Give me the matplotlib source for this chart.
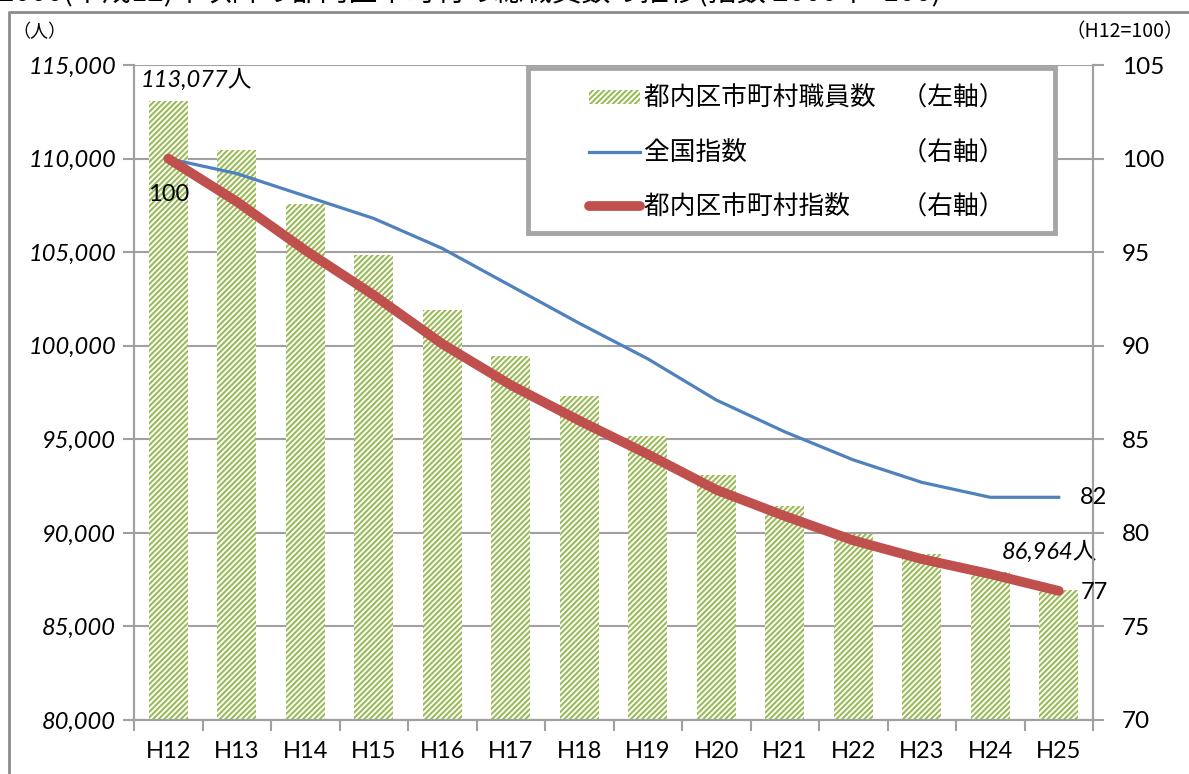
import matplotlib
matplotlib.use("Agg")
import matplotlib.pyplot as plt
from matplotlib import font_manager
from matplotlib.font_manager import FontProperties
from matplotlib.lines import Line2D
from matplotlib.patches import Patch, Rectangle

plt.rcParams['font.family'] = ['Lato', 'Noto Sans CJK JP', 'DejaVu Sans']
plt.rcParams['hatch.linewidth'] = 1.5

# 年度
years = ['H12', 'H13', 'H14', 'H15', 'H16', 'H17', 'H18',
         'H19', 'H20', 'H21', 'H22', 'H23', 'H24', 'H25']
# 都内区市町村職員数（人）
staff = [113077, 110450, 107560, 104830, 101890, 99430, 97290,
         95200, 93110, 91450, 89950, 88880, 87920, 86964]
# 全国指数（H12=100）
national_idx = [100, 99.2, 98.0, 96.8, 95.2, 93.2, 91.2,
                89.3, 87.1, 85.4, 83.9, 82.7, 81.9, 81.9]
# 都内区市町村指数（H12=100）
tokyo_idx = [100, 97.7, 95.1, 92.7, 90.1, 87.9, 86.0,
             84.2, 82.3, 80.9, 79.6, 78.6, 77.8, 76.9]

GREEN = '#9BBB59'
BLUE = '#4F81BD'
RED = '#C0504D'
GRID = '#A0A0A0'
JP = ['Noto Sans CJK JP', 'DejaVu Sans']
FS = 17


def italic_family():
    # 斜体フォントが実際にあるファミリーを選ぶ
    for fam in ['Lato', 'Open Sans', 'Noto Sans', 'Liberation Sans', 'DejaVu Sans']:
        path = font_manager.findfont(FontProperties(family=fam, style='italic'),
                                     fallback_to_default=False)
        name = path.lower()
        if fam.split()[0].lower() in name and ('italic' in name or 'oblique' in name):
            return fam
    return 'DejaVu Sans'


ITALIC = [italic_family(), 'Noto Sans CJK JP']

fig = plt.figure(figsize=(11.89, 7.74), dpi=100)
ax = fig.add_axes([134 / 1189, 1 - 720 / 774, 959 / 1189, 655 / 774])
ax2 = ax.twinx()

x = list(range(len(years)))

# 棒グラフ（左軸）
ax.bar(x, staff, width=0.57, color='white', edgecolor=GREEN,
       linewidth=0, hatch='//////', zorder=2)
ax.set_ylim(80000, 115000)
left_ticks = list(range(80000, 115001, 5000))
ax.set_yticks(left_ticks, [f'{v:,}' for v in left_ticks])
ax.set_xlim(-0.5, len(years) - 0.5)
ax.set_xticks(x, years, fontsize=FS)
ax.set_xticks([i - 0.5 for i in range(len(years) + 1)], minor=True)
ax.tick_params(axis='x', which='major', length=0, pad=15)
ax.tick_params(axis='x', which='minor', length=8, width=1.5, color=GRID)
ax.tick_params(axis='y', length=8, width=1.5, color=GRID, pad=5)
ax.grid(axis='y', color=GRID, linewidth=1.5, zorder=0)
ax.set_axisbelow(True)

# 折れ線（右軸）
ax2.plot(x, national_idx, color=BLUE, linewidth=2.3, zorder=3)
ax2.plot(x, tokyo_idx, color=RED, linewidth=7, solid_capstyle='round',
         solid_joinstyle='round', zorder=4)
ax2.set_ylim(70, 105)
right_ticks = list(range(70, 106, 5))
ax2.set_yticks(right_ticks, [str(v) for v in right_ticks], fontsize=FS + 0.5)
ax2.tick_params(axis='y', length=8, width=1.5, color=GRID, pad=13)

for a in (ax, ax2):
    a.spines['top'].set_visible(False)
    for s in ('left', 'right', 'bottom'):
        a.spines[s].set_color(GRID)
        a.spines[s].set_linewidth(1.5)

# データラベル
ax.annotate(f'{staff[0]:,}人', (x[0], staff[0]), xytext=(-20, 15),
            textcoords='offset points', ha='left', va='center',
            fontsize=FS, fontstyle='italic', family=ITALIC)
ax.annotate(f'{staff[-1]:,}人', (x[-1], staff[-1]), xytext=(28, 27),
            textcoords='offset points', ha='right', va='center',
            fontsize=FS, fontstyle='italic', family=ITALIC)
ax2.annotate(f'{tokyo_idx[0]:.0f}', (x[0], tokyo_idx[0]), xytext=(0, -26),
             textcoords='offset points', ha='center', va='center', fontsize=FS)
ax2.annotate(f'{national_idx[-1]:.0f}', (x[-1], national_idx[-1]), xytext=(15, 0),
             textcoords='offset points', ha='left', va='center', fontsize=FS)
ax2.annotate(f'{tokyo_idx[-1]:.0f}', (x[-1], tokyo_idx[-1]), xytext=(16, -1),
             textcoords='offset points', ha='left', va='center', fontsize=FS)

# 凡例（枠は別に描く）
box = Rectangle((0.411, 0.744), 0.549, 0.252, transform=ax2.transAxes,
                facecolor='white', edgecolor='#A6A6A6', linewidth=3.5, zorder=9)
ax2.add_patch(box)
handles = [
    Patch(facecolor='white', edgecolor=GREEN, linewidth=0, hatch='//////'),
    Line2D([], [], color=BLUE, linewidth=2.3),
    Line2D([], [], color=RED, linewidth=7, solid_capstyle='round'),
]
labels = ['都内区市町村職員数\u3000（左軸）',
          '全国指数\u3000\u3000\u3000\u3000\u3000\u3000（右軸）',
          '都内区市町村指数\u3000\u3000（右軸）']
leg = ax2.legend(handles, labels, loc='upper left', bbox_to_anchor=(0.474, 0.968),
                 borderaxespad=0, frameon=False, borderpad=0,
                 prop={'family': JP, 'size': 18.5}, handlelength=2.0, handleheight=0.5,
                 handletextpad=0.15, labelspacing=1.1)
leg.set_zorder(10)

# 単位
fig.text(12 / 1189, 1 - 32 / 774, '（人）', fontsize=13, family=JP, va='center', ha='left')
fig.text(1184 / 1189, 1 - 32 / 774, '（H12=100）', fontsize=14, family=JP,
         va='center', ha='right')

# 外枠とタイトル
fig.add_artist(Line2D([9 / 1189, 9 / 1189, 1.01], [-0.01, 1 - 12 / 774, 1 - 12 / 774],
                      color='#8C8C8C', linewidth=2, transform=fig.transFigure))
fig.text(-2 / 1189, 1 - 7 / 774,
         '2000(平成12)年以降の都内区市町村の総職員数の推移(指数 2000年=100)',
         fontsize=21, family=JP, va='bottom', ha='left')

plt.setp(ax.get_yticklabels(), fontsize=FS, fontstyle='italic', family=ITALIC)

fig.savefig('out.png', dpi=100)
